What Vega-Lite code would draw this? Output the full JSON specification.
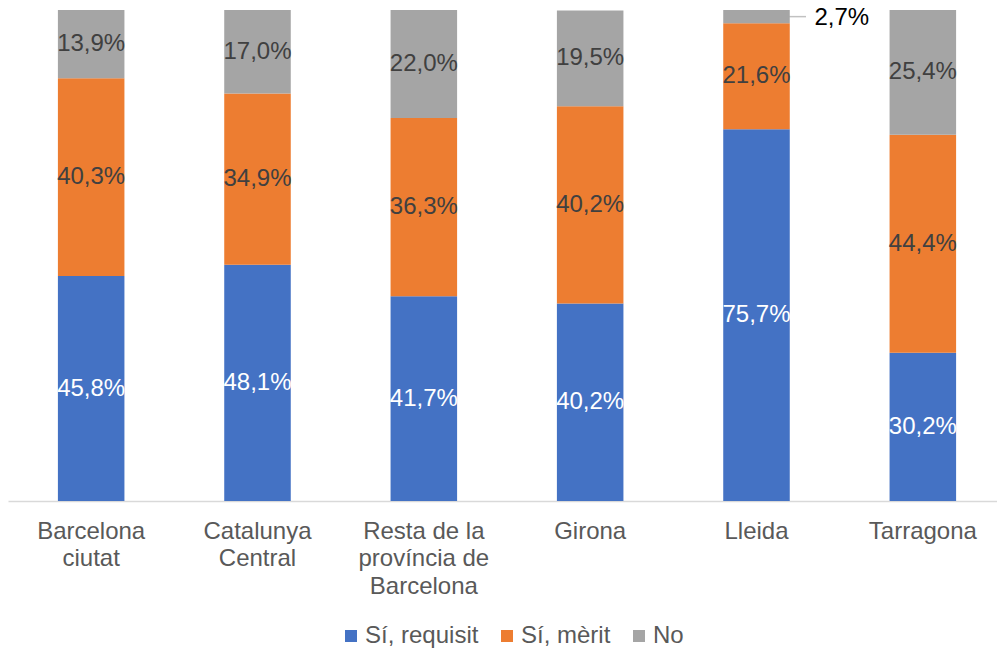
{
  "$schema": "https://vega.github.io/schema/vega-lite/v6.json",
  "width": 998,
  "height": 491,
  "autosize": {"type": "none"},
  "padding": {"left": 8, "top": 10, "right": 0, "bottom": 151},
  "background": "white",
  "config": {
    "view": {"stroke": null},
    "font": "Liberation Sans",
    "text": {"font": "Liberation Sans"}
  },
  "data": {
    "values": [
      {"cat": "Barcelona ciutat", "s": "Sí, requisit", "v": 45.8},
      {"cat": "Barcelona ciutat", "s": "Sí, mèrit", "v": 40.3},
      {"cat": "Barcelona ciutat", "s": "No", "v": 13.9},
      {"cat": "Catalunya Central", "s": "Sí, requisit", "v": 48.1},
      {"cat": "Catalunya Central", "s": "Sí, mèrit", "v": 34.9},
      {"cat": "Catalunya Central", "s": "No", "v": 17.0},
      {"cat": "Resta de la província de Barcelona", "s": "Sí, requisit", "v": 41.7},
      {"cat": "Resta de la província de Barcelona", "s": "Sí, mèrit", "v": 36.3},
      {"cat": "Resta de la província de Barcelona", "s": "No", "v": 22.0},
      {"cat": "Girona", "s": "Sí, requisit", "v": 40.2},
      {"cat": "Girona", "s": "Sí, mèrit", "v": 40.2},
      {"cat": "Girona", "s": "No", "v": 19.5},
      {"cat": "Lleida", "s": "Sí, requisit", "v": 75.7},
      {"cat": "Lleida", "s": "Sí, mèrit", "v": 21.6},
      {"cat": "Lleida", "s": "No", "v": 2.7},
      {"cat": "Tarragona", "s": "Sí, requisit", "v": 30.2},
      {"cat": "Tarragona", "s": "Sí, mèrit", "v": 44.4},
      {"cat": "Tarragona", "s": "No", "v": 25.4}
    ]
  },
  "transform": [
    {"stack": "v", "groupby": ["cat"], "sort": [{"field": "s", "order": "descending"}], "as": ["y0", "y1"]},
    {"calculate": "(datum.y0 + datum.y1) / 2", "as": "mid"},
    {"calculate": "replace(format(datum.v, '.1f'), '.', ',') + '%'", "as": "lbl"}
  ],
  "encoding": {
    "x": {
      "field": "cat",
      "type": "nominal",
      "sort": null,
      "scale": {"paddingInner": 0.6, "paddingOuter": 0.3},
      "axis": {
        "title": null,
        "labelAngle": 0,
        "ticks": false,
        "domainColor": "#d9d9d9",
        "domainWidth": 1.5,
        "labelFont": "Liberation Sans",
        "labelFontSize": 24,
        "labelColor": "#595959",
        "labelPadding": 18,
        "labelLineHeight": 27.5,
        "labelBaseline": "top",
        "labelExpr": "datum.value == 'Barcelona ciutat' ? ['Barcelona', 'ciutat'] : datum.value == 'Catalunya Central' ? ['Catalunya', 'Central'] : datum.value == 'Resta de la província de Barcelona' ? ['Resta de la', 'província de', 'Barcelona'] : datum.value"
      }
    }
  },
  "layer": [
    {
      "mark": {"type": "bar"},
      "encoding": {
        "y": {"field": "y0", "type": "quantitative", "scale": {"domain": [0, 100], "nice": false}, "axis": null},
        "y2": {"field": "y1"},
        "color": {
          "field": "s",
          "type": "nominal",
          "scale": {"domain": ["Sí, requisit", "Sí, mèrit", "No"], "range": ["#4472C4", "#ED7D31", "#A5A5A5"]},
          "legend": {
            "title": null,
            "orient": "none",
            "legendX": 331,
            "legendY": 614,
            "padding": 0,
            "direction": "horizontal",
            "symbolType": "square",
            "symbolSize": 144,
            "symbolStrokeWidth": 0,
            "labelFont": "Liberation Sans",
            "labelFontSize": 24,
            "labelColor": "#595959",
            "labelOffset": 2,
            "columnPadding": 16
          }
        }
      }
    },
    {
      "transform": [{"filter": "!(datum.cat == 'Lleida' && datum.s == 'No')"}],
      "mark": {"type": "text", "fontSize": 24, "font": "Liberation Sans", "baseline": "middle", "align": "center"},
      "encoding": {
        "y": {"field": "mid", "type": "quantitative", "scale": {"domain": [0, 100], "nice": false}},
        "text": {"field": "lbl"},
        "color": {
          "condition": {"test": "datum.s == 'Sí, requisit'", "value": "#ffffff"},
          "value": "#404040"
        }
      }
    },
    {
      "transform": [{"filter": "datum.cat == 'Lleida' && datum.s == 'No'"}],
      "mark": {"type": "tick", "orient": "horizontal", "size": 17, "thickness": 1.5, "color": "#a6a6a6", "xOffset": 41},
      "encoding": {
        "y": {"field": "mid", "type": "quantitative", "scale": {"domain": [0, 100], "nice": false}}
      }
    },
    {
      "transform": [{"filter": "datum.cat == 'Lleida' && datum.s == 'No'"}],
      "mark": {"type": "text", "fontSize": 24, "font": "Liberation Sans", "baseline": "middle", "align": "left", "dx": 58, "dy": 1.5, "color": "#000000"},
      "encoding": {
        "y": {"field": "mid", "type": "quantitative", "scale": {"domain": [0, 100], "nice": false}},
        "text": {"field": "lbl"}
      }
    }
  ]
}
